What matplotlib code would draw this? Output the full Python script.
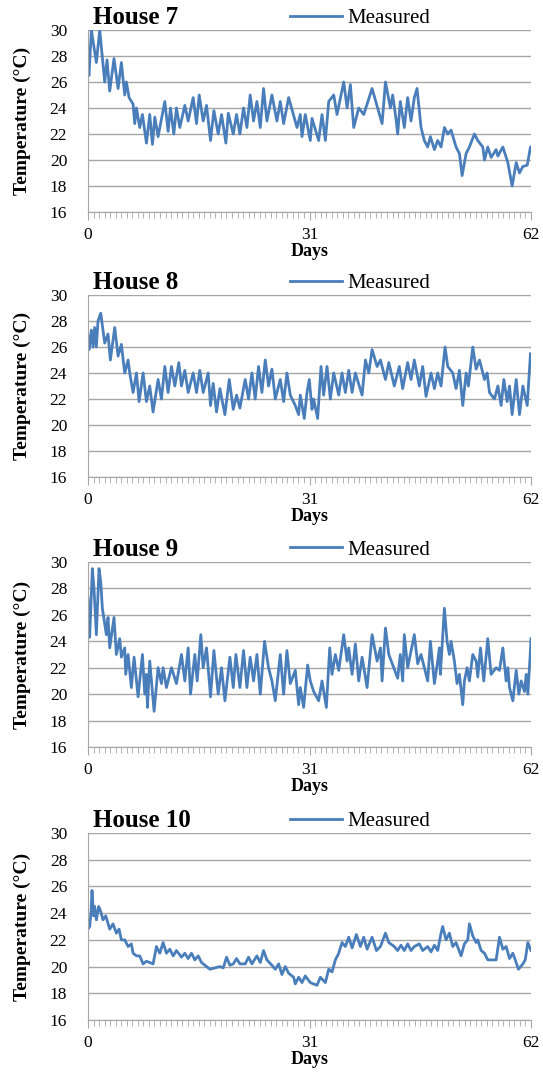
import matplotlib
matplotlib.use("Agg")
import matplotlib.pyplot as plt
import numpy as np

plt.rcParams['font.family'] = ['Liberation Serif', 'DejaVu Serif']

# values (day, temperature in degC)
h7_day = [0, 0.14, 0.47, 1.17, 1.64, 2.34, 2.66, 3.04, 3.64, 4.21, 4.67, 5.14, 5.37, 5.75,
          6.31, 6.54, 6.78, 7.24, 7.62, 8.18, 8.64, 9.02, 9.35, 9.81, 10.75, 11.21, 11.54,
          12.01, 12.38, 12.85, 13.55, 14.02, 14.72, 15.19, 15.56, 16.12, 16.59, 17.15, 17.62,
          18.22, 18.69, 19.3, 19.63, 20.33, 20.79, 21.26, 21.77, 22.24, 22.7, 23.17, 23.64,
          24.11, 24.57, 25.04, 25.74, 26.44, 26.91, 27.38, 28.08, 29.25, 29.71, 29.95, 30.41,
          31.11, 31.35, 32.28, 32.75, 33.22, 33.69, 34.39, 34.85, 35.79, 36.26, 36.72, 37.19,
          37.89, 38.59, 39.76, 41.16, 41.63, 42.33, 42.64, 43.1, 43.34, 43.71, 44.27, 44.74,
          45.21, 45.67, 46.05, 46.37, 46.61, 47.07, 47.54, 47.92, 48.48, 48.94, 49.41, 49.88,
          50.35, 50.81, 51.51, 51.98, 52.36, 52.92, 53.38, 54.08, 54.55, 55.25, 55.49, 55.95,
          56.42, 57.12, 57.36, 58.06, 58.76, 59.36, 59.93, 60.39, 60.86, 61.47, 61.93, 62]
h7_temp = [26.9, 26.5, 30, 27.5, 30, 26, 27.7, 25.3, 27.8, 25.5, 27.5, 25, 26, 24.8,
           24.3, 22.8, 24, 22.5, 23.5, 21.3, 23.5, 21.2, 23.3, 21.8, 24.5, 22.2, 24,
           22, 24, 22.5, 24.2, 23, 24.8, 22.8, 25, 23, 24.2, 21.5, 23.8,
           22, 23.5, 21.3, 23.6, 22, 23.5, 22, 24, 22.5, 25, 23, 24.5,
           22.5, 25.5, 23, 25, 23, 24.5, 22.8, 24.8, 22.5, 23.5, 21.8, 23.5,
           21.5, 23.2, 21.5, 23.5, 21.5, 24.5, 25, 23.5, 26, 24, 25.8, 22.5,
           24, 23.5, 25.5, 22.8, 26, 24, 25, 23.2, 22, 24.5, 22.5, 24.8,
           23, 24.8, 25.5, 23.8, 22.5, 21.5, 21, 21.8, 20.8, 21.5, 21, 22.5,
           22, 22.3, 21, 20.5, 18.8, 20.5, 21, 22, 21.5, 21, 20, 21,
           20.2, 20.8, 20.3, 21, 19.8, 18, 19.8, 19, 19.5, 19.6, 21, 20.9]

h8_day = [0, 0.14, 0.47, 0.7, 0.93, 1.17, 1.4, 1.78, 2.34, 2.8, 3.13, 3.74, 4.21, 4.67,
          5.14, 5.61, 5.84, 6.31, 6.78, 7.15, 7.71, 8.18, 8.64, 9.11, 9.81, 10.28, 10.75,
          11.21, 11.68, 12.15, 12.71, 13.08, 13.55, 14.02, 14.72, 15.19, 15.65, 16.12, 16.82,
          17.15, 17.52, 17.99, 18.46, 19.16, 19.77, 20.33, 20.79, 21.26, 22.0, 22.47, 22.94,
          23.4, 23.87, 24.34, 24.81, 25.27, 25.74, 26.21, 26.91, 27.38, 27.84, 28.31, 29.01,
          29.48, 29.71, 30.27, 30.65, 30.97, 31.35, 31.58, 32.14, 32.61, 32.98, 33.45, 33.92,
          34.39, 35.09, 35.55, 36.02, 36.49, 36.96, 37.42, 38.36, 38.83, 39.29, 39.76, 40.46,
          40.93, 41.63, 42.1, 42.87, 43.57, 44.04, 44.74, 45.21, 45.67, 46.37, 46.84, 47.31,
          48.01, 48.48, 48.94, 49.41, 49.97, 50.35, 51.05, 51.51, 51.98, 52.45, 52.92, 53.24,
          53.85, 54.32, 54.79, 55.49, 55.86, 56.19, 56.89, 57.36, 57.82, 58.2, 58.66, 58.99,
          59.36, 59.93, 60.39, 60.86, 61.47, 61.93, 62]
h8_temp = [26.8, 25.8, 27.3, 26, 27.5, 26, 28, 28.6, 26.3, 27, 25, 27.5, 25.3, 26.2,
           24, 25, 24, 22.5, 24, 21.8, 24, 21.8, 23, 21, 23.5, 22, 24.5,
           22.5, 24.5, 23, 24.8, 23, 24.2, 22.5, 24, 22.5, 24.2, 22.5, 24,
           21.5, 23.2, 21, 22.8, 20.8, 23.5, 21.2, 22.3, 21.3, 23.5, 22, 24,
           22, 24.5, 22.5, 25, 23, 24.3, 22, 23.5, 21.8, 24, 22.3, 21.5,
           20.8, 22.3, 20.5, 22.5, 23.5, 21.2, 22, 20.5, 24.5, 22.3, 24.5, 22,
           24, 22.3, 24, 22.5, 24.2, 22.5, 24, 22.3, 25, 24, 25.8, 24.5,
           25, 23.5, 24.8, 23, 24.5, 22.8, 24.8, 23.5, 25, 23, 24.5, 22.2,
           24, 22.8, 24, 23, 26, 24.5, 24, 22.8, 24.2, 21.5, 24, 23,
           26, 24.3, 25, 23.5, 24, 22.5, 22, 23, 21.5, 23.5, 21.8, 23,
           20.8, 23.5, 20.8, 23, 21.5, 25.5, 24.5]

h9_day = [0, 0.23, 0.42, 0.61, 0.84, 1.17, 1.54, 1.78, 2.01, 2.57, 2.8, 3.04, 3.64, 3.97,
          4.44, 4.67, 5.14, 5.28, 5.61, 6.07, 6.45, 7.01, 7.62, 7.94, 8.18, 8.32, 8.64, 9.25,
          9.81, 10.28, 10.51, 10.98, 11.68, 12.38, 13.08, 13.55, 14.02, 14.35, 14.95, 15.28,
          15.79, 16.12, 16.59, 17.15, 17.62, 18.22, 18.69, 19.16, 19.86, 20.33, 20.7, 21.26,
          21.77, 22.24, 22.7, 23.17, 23.64, 24.11, 24.71, 25.27, 25.74, 26.21, 26.91, 27.38,
          27.84, 28.31, 29.01, 29.48, 29.71, 30.18, 30.74, 31.11, 31.58, 32.28, 32.75, 33.36,
          33.83, 34.15, 34.62, 35.09, 35.79, 36.26, 36.49, 36.96, 37.42, 37.89, 38.36, 39.06,
          39.76, 40.46, 40.93, 41.16, 41.63, 42.1, 43.34, 43.71, 44.04, 44.27, 44.74, 45.67,
          46.14, 46.61, 47.07, 47.54, 47.92, 48.48, 48.94, 49.18, 49.32, 49.88, 50.25, 50.58,
          50.81, 51.28, 51.65, 51.98, 52.45, 52.68, 53.06, 53.38, 53.85, 54.32, 54.55, 54.93,
          55.39, 55.95, 56.42, 57.12, 57.59, 58.06, 58.52, 58.76, 58.99, 59.46, 59.93, 60.3,
          60.63, 61.09, 61.33, 61.56, 61.89, 62]
h9_temp = [27.3, 24.3, 27, 29.5, 28, 24.5, 29.5, 28.5, 26.5, 24.5, 25.8, 23.5, 25.8, 23,
           24.2, 22.8, 23.5, 21.5, 23, 20.5, 22.8, 19.8, 23, 20, 21.5, 19, 22.5, 18.7,
           22, 20.8, 22, 20.5, 22, 20.8, 23, 21, 23.5, 20, 23, 21,
           24.5, 22, 23.5, 19.8, 23.3, 20, 22, 19.5, 22.8, 20.5, 23, 20.5,
           23.3, 20.5, 22.8, 21, 23, 20, 24, 22, 21, 19.5, 23, 20,
           23.3, 20.8, 21.8, 19.2, 20.5, 19, 22.2, 21, 20.2, 19.5, 21, 19,
           23.5, 21.5, 23, 21.8, 24.5, 22.5, 23.5, 21.5, 23.8, 21, 22.8, 20.5,
           24.5, 22.5, 23.5, 21, 25, 23, 21.2, 23, 21, 24.5, 22, 24.5,
           22.3, 23, 22, 21, 24, 20.8, 22.5, 23.5, 21.5, 26.5, 24, 23,
           24, 22.5, 20.8, 21.5, 19.2, 21, 22, 21, 23, 22.5, 21.3, 23.5,
           21, 24.2, 21.5, 22, 21.8, 23.5, 21, 22, 20.5, 19.5, 21.8, 20,
           21, 20.2, 21.5, 20, 23, 24.2]

h10_day = [0, 0.23, 0.42, 0.56, 0.79, 0.93, 1.17, 1.5, 1.73, 2.1, 2.48, 3.04, 3.5, 3.97,
           4.35, 4.67, 5.14, 5.61, 6.07, 6.31, 6.78, 7.24, 7.71, 8.18, 9.11, 9.58, 10.05,
           10.51, 10.98, 11.45, 11.92, 12.38, 13.08, 13.55, 14.02, 14.49, 14.95, 15.42, 15.89,
           16.59, 17.06, 17.76, 18.46, 18.93, 19.39, 19.86, 20.33, 20.79, 21.26, 22.0, 22.47,
           22.94, 23.64, 24.11, 24.57, 25.04, 25.74, 26.21, 26.68, 27.14, 27.61, 28.08, 28.78,
           29.01, 29.48, 29.95, 30.41, 31.11, 32.05, 32.52, 33.22, 33.69, 34.15, 34.62, 35.09,
           35.55, 36.02, 36.49, 36.96, 37.56, 38.12, 38.59, 39.06, 39.76, 40.37, 40.93, 41.63,
           42.1, 42.87, 43.34, 43.8, 44.27, 44.74, 45.21, 45.67, 46.37, 46.84, 47.54, 48.01,
           48.48, 48.94, 49.41, 49.64, 50.11, 50.58, 51.05, 51.51, 52.21, 52.68, 53.15, 53.38,
           53.85, 54.32, 54.55, 55.02, 55.49, 55.95, 57.12, 57.59, 58.06, 58.52, 58.99, 59.46,
           59.93, 60.25, 60.86, 61.19, 61.56, 62]
h10_temp = [22.8, 23, 24, 25.7, 23.8, 24.5, 23.5, 24.5, 24.2, 23.5, 23.8, 22.8, 23.2, 22.5,
            22.8, 22, 22, 21.5, 21.7, 21, 20.8, 20.8, 20.2, 20.4, 20.2, 21.5, 21,
            21.8, 21, 21.3, 20.8, 21.2, 20.7, 21, 20.6, 21, 20.5, 20.8, 20.3,
            20, 19.8, 19.9, 20, 19.9, 20.7, 20.1, 20.2, 20.6, 20.2, 20.2, 20.7,
            20.2, 20.8, 20.3, 21.2, 20.5, 20.1, 19.8, 20.2, 19.4, 20, 19.5, 19.2,
            18.7, 19.2, 18.8, 19.3, 18.8, 18.6, 19.2, 18.8, 19.8, 19.6, 20.5, 21,
            21.8, 21.5, 22.2, 21.4, 22.4, 21.5, 22.2, 21.3, 22.2, 21.2, 21.5, 22.5,
            21.8, 21.5, 21.2, 21.6, 21.2, 21.7, 21.2, 21.5, 21.7, 21.2, 21.5, 21.1,
            21.6, 21.2, 22.5, 23, 22, 22.5, 21.5, 21.8, 20.8, 21.7, 22, 23.2,
            22.3, 21.8, 22, 21.2, 21, 20.5, 20.5, 22.2, 21.3, 21.5, 20.6, 21,
            20.3, 19.8, 20.2, 20.5, 21.8, 21.2]

houses = ['House 7', 'House 8', 'House 9', 'House 10']
days = [h7_day, h8_day, h9_day, h10_day]
temps = [h7_temp, h8_temp, h9_temp, h10_temp]

# axes boxes in pixels (top, bottom) measured on the 543x1075 reference
boxes = [(30, 212), (295, 477), (562, 747), (833, 1020)]

W, H = 543, 1075
fig = plt.figure(figsize=(W / 100, H / 100), dpi=100)
left, right = 88, 531
blue = '#4a7ebb'
grey = '#a6a6a6'

for name, d, t, (top, bot) in zip(houses, days, temps, boxes):
    hp = bot - top
    ax = fig.add_axes([left / W, 1 - bot / H, (right - left) / W, hp / H])
    ax.plot(d, t, color=blue, lw=2.0, label='Measured')
    ax.set_xlim(0, 62)
    ax.set_ylim(16, 30)
    ax.set_yticks(np.arange(16, 31, 2))
    ax.set_xticks([0, 31, 62])
    ax.set_xticks(np.linspace(0, 62, 81), minor=True)
    ax.grid(axis='y', color=grey, lw=1)
    ax.set_axisbelow(True)
    for s in ['top', 'right']:
        ax.spines[s].set_visible(False)
    for s in ['left', 'bottom']:
        ax.spines[s].set_color(grey)
    ax.tick_params(axis='y', length=0, pad=15, labelsize=12.5)
    ax.tick_params(axis='x', which='major', length=6, color=grey, pad=5, labelsize=12.5)
    ax.tick_params(axis='x', which='minor', length=4, color=grey)

    ax.set_ylabel('Temperature (°C)', fontsize=14, fontweight='bold')
    ax.yaxis.set_label_coords(-57 / (right - left), 0.5)
    ax.set_xlabel('Days', fontsize=13, fontweight='bold')
    ax.xaxis.set_label_coords(0.5, -31 / hp)

    ax.annotate(name, xy=(5 / (right - left), 1), xycoords='axes fraction',
                xytext=(0, 4.5), textcoords='offset points',
                fontsize=18, fontweight='bold', ha='left', va='baseline')
    ax.legend(loc='center left', bbox_to_anchor=(202 / (right - left), 1 + 12 / hp),
              frameon=False, fontsize=15, handlelength=2.5, handletextpad=0.25,
              borderpad=0, borderaxespad=0)

fig.savefig('out.png', dpi=100)
